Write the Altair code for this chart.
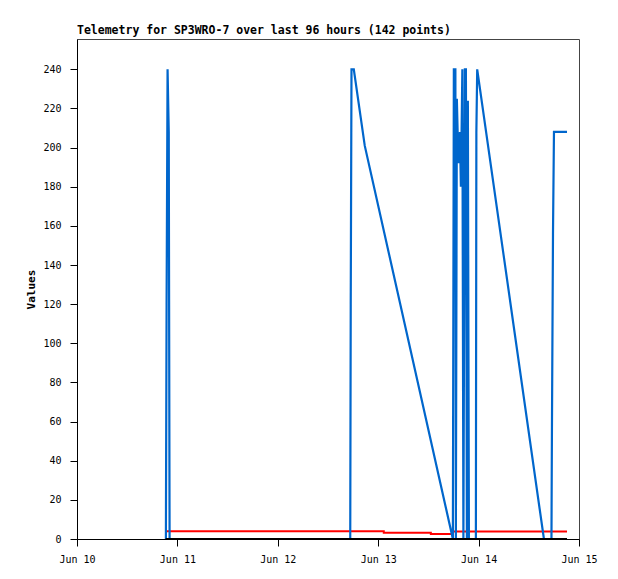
import altair as alt
import pandas as pd

# Blue series (time, value)
blue_times = [
    "2025-06-10T21:15", "2025-06-10T21:25", "2025-06-10T21:39", "2025-06-10T21:56", "2025-06-10T22:08",
    "2025-06-12T17:19", "2025-06-12T17:26", "2025-06-12T17:37", "2025-06-12T18:10", "2025-06-12T20:47",
    "2025-06-13T17:51", "2025-06-13T18:05", "2025-06-13T18:27", "2025-06-13T18:34", "2025-06-13T18:48",
    "2025-06-13T19:10", "2025-06-13T19:32", "2025-06-13T19:46", "2025-06-13T20:07", "2025-06-13T20:22",
    "2025-06-13T20:43", "2025-06-13T20:58", "2025-06-13T21:12", "2025-06-13T21:26", "2025-06-13T21:41",
    "2025-06-13T23:21", "2025-06-13T23:28", "2025-06-13T23:40",
    "2025-06-14T15:37", "2025-06-14T17:25", "2025-06-14T17:32", "2025-06-14T17:47", "2025-06-14T18:01",
    "2025-06-14T21:08",
]
blue_values = [
    0, 120, 240, 208, 0,
    0, 120, 240, 240, 201,
    0, 240, 240, 0, 225,
    192, 208, 180, 240, 0,
    240, 240, 0, 224, 0,
    0, 208, 240,
    0, 0, 57, 156, 208,
    208,
]

# Red series (step-after)
red_times = ["2025-06-10T21:11", "2025-06-13T01:20", "2025-06-13T12:35", "2025-06-13T17:51", "2025-06-14T21:08"]
red_values = [3.9, 3.2, 2.6, 3.8, 3.8]

# Black series
black_times = ["2025-06-10T21:11", "2025-06-14T21:08"]
black_values = [0, 0]

x_ticks = [alt.DateTime(year=2025, month=6, date=d) for d in [10, 11, 12, 13, 14, 15]]
y_ticks = list(range(0, 241, 20))

blue_df = pd.DataFrame({"t": blue_times, "v": blue_values})
red_df = pd.DataFrame({"t": red_times, "v": red_values})
black_df = pd.DataFrame({"t": black_times, "v": black_values})

FONT = "DejaVu Sans Mono"

xscale = alt.Scale(domain=[x_ticks[0], x_ticks[-1]])
yscale = alt.Scale(domain=[0, 255.5], nice=False, zero=False)

xenc = alt.X(
    "t:T",
    scale=xscale,
    axis=alt.Axis(
        values=x_ticks, format="%b %d", title=None, grid=False,
        tickSize=7, labelPadding=8, labelFont=FONT, labelFontSize=10,
        labelColor="#000", tickColor="#000", domainColor="#000",
        labelFlush=False, labelOverlap=False,
    ),
)
yenc = alt.Y(
    "v:Q",
    scale=yscale,
    axis=alt.Axis(
        values=y_ticks, title="Values", grid=False,
        tickSize=7, labelPadding=9, labelFont=FONT, labelFontSize=10,
        labelColor="#000", tickColor="#000", domainColor="#000",
        titleFont=FONT, titleFontSize=11, titleFontWeight="bold", titleColor="#000",
        titleAngle=270, titleX=-46, titleY=250, titleAlign="center", titleBaseline="middle",
        labelFlush=False,
    ),
)

red = alt.Chart(red_df).mark_line(color="#ff0000", strokeWidth=2, interpolate="step-after").encode(x=xenc, y=yenc)
blue = alt.Chart(blue_df).mark_line(color="#0066cc", strokeWidth=2.2).encode(x=xenc, y=yenc)
black = alt.Chart(black_df).mark_line(color="#000000", strokeWidth=2).encode(x=xenc, y=yenc)

chart = alt.layer(red, blue, black).properties(
    width=502,
    height=500,
    background="white",
    title=alt.TitleParams(
        "Telemetry for SP3WRO-7 over last 96 hours (142 points)",
        anchor="start", frame="group", font=FONT, fontSize=11.5, fontWeight="bold", color="#000", offset=3,
    ),
    autosize=alt.AutoSizeParams(type="none"),
    padding={"left": 69, "top": 31, "right": 25, "bottom": 30},
).configure_view(stroke="#444444", strokeWidth=1)

chart.save("out.html", embed_options={"renderer": "svg", "actions": False})
